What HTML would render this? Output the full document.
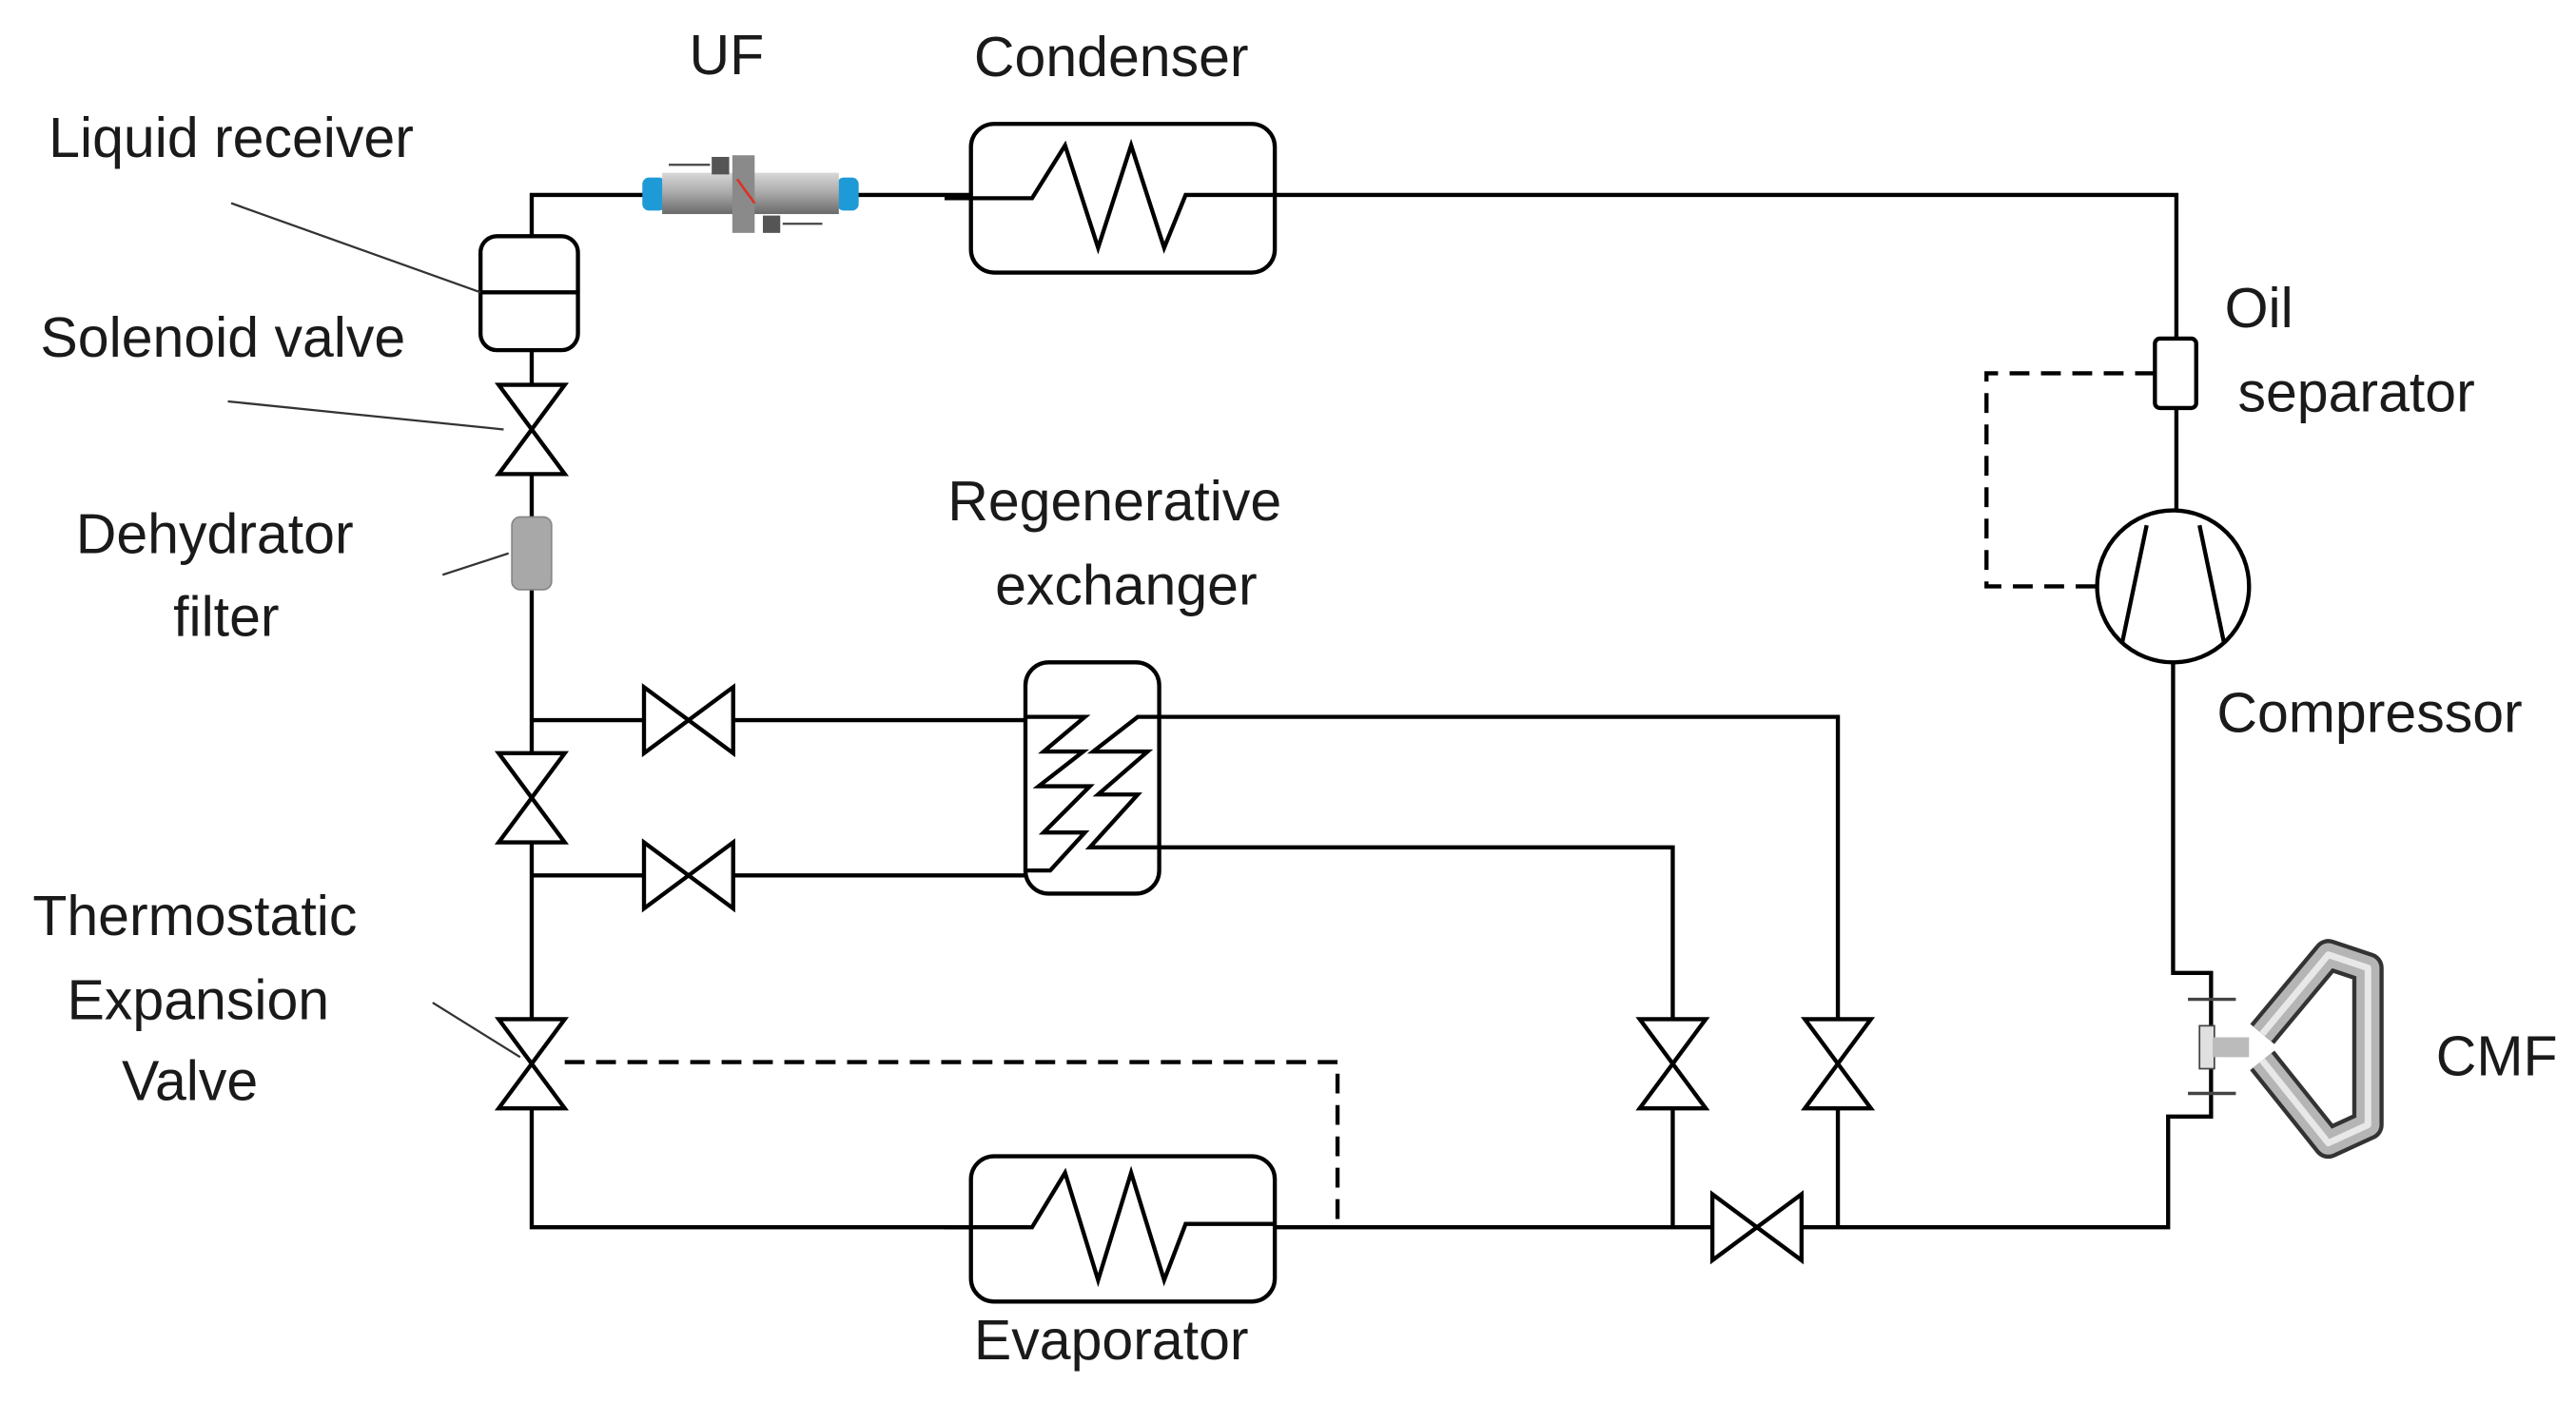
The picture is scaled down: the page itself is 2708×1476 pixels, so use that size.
<!DOCTYPE html>
<html><head><meta charset="utf-8"><style>
html,body{margin:0;padding:0;background:#fff;}
svg{display:block;}
text{font-family:"Liberation Sans",sans-serif;font-size:34px;fill:#1a1a1a;text-anchor:middle;}
</style></head><body>
<svg width="2708" height="1476" viewBox="0 0 1560 850" preserveAspectRatio="none" xmlns="http://www.w3.org/2000/svg">
<defs>
<linearGradient id="g" x1="0" y1="0" x2="0" y2="1"><stop offset="0" stop-color="#d8d8d8"/><stop offset="0.5" stop-color="#a8a8a8"/><stop offset="1" stop-color="#6a6a6a"/></linearGradient>
</defs>
<g fill="none" stroke="#000" stroke-width="2.5">
<path d="M322 143 V118 H1318 V205"/>
<path d="M322 212 V233 M322 287 V313 M322 357 V456 M322 510 V617 M322 671 V743 H1037 M1091 743 H1313 V676 H1339 V589 H1316 V401"/>
<path d="M1318 247 V309"/>
<path d="M322 436 H390 M444 436 H625 M322 530 H390 M444 530 H625"/>
<path d="M702 434 H1113 V617 M1113 671 V743 M702 513 H1013 V617 M1013 671 V743"/>
<rect x="291" y="143" width="59" height="69" rx="10" fill="#fff"/>
<path d="M291 177 H350"/>
<path d="M302 233 H342 L302 287 H342 Z" fill="#fff"/>
<path d="M302 456 H342 L302 510 H342 Z" fill="#fff"/>
<path d="M302 617 H342 L302 671 H342 Z" fill="#fff"/>
<path d="M993 617 H1033 L993 671 H1033 Z" fill="#fff"/>
<path d="M1093 617 H1133 L1093 671 H1133 Z" fill="#fff"/>
<path d="M390 416 V456 L444 416 V456 Z" fill="#fff"/>
<path d="M390 510 V550 L444 510 V550 Z" fill="#fff"/>
<path d="M1037 723 V763 L1091 723 V763 Z" fill="#fff"/>
<rect x="588" y="75" width="184" height="90" rx="14" fill="#fff"/>
<path d="M572 120 H625 L645 88 L665 150 L685 88 L705 150 L718 118 H772"/>
<rect x="588" y="700" width="184" height="88" rx="14" fill="#fff"/>
<path d="M572 743 H625 L645 710 L665 775 L685 710 L705 775 L718 741 H772"/>
<rect x="621" y="401" width="81" height="140" rx="14" fill="#fff"/>
<path d="M621 434 H657 L632 455 H656 L629 476 H660 L632 504 H657 L636 527 H621"/>
<path d="M702 434 H689 L662 455 H695 L665 481 H689 L660 513 H702"/>
<rect x="1305" y="205" width="25" height="42" rx="3" fill="#fff"/>
<circle cx="1316" cy="355" r="46" fill="#fff"/>
<path d="M1285 390 L1300 318 M1347 390 L1332 318"/>
</g>
<g fill="none" stroke="#000" stroke-width="2.5" stroke-dasharray="12,7">
<path d="M342 643 H810 V743"/>
<path d="M1305 226 H1203 V355 H1270"/>
</g>
<g stroke="#333" stroke-width="1.3">
<line x1="140" y1="123" x2="291" y2="177"/>
<line x1="138" y1="243" x2="305" y2="260"/>
<line x1="268" y1="348" x2="308" y2="335"/>
<line x1="262" y1="607" x2="315" y2="640"/>
</g>
<rect x="310" y="313" width="24" height="44" rx="5" fill="#a8a8a8" stroke="#888"/>
<rect x="389" y="107.5" width="14" height="20" rx="4" fill="#1e9bd6"/>
<rect x="507" y="107.5" width="13" height="20" rx="4" fill="#1e9bd6"/>
<rect x="401" y="104.6" width="107" height="25" fill="url(#g)"/>
<rect x="443.5" y="94" width="13.5" height="47" fill="#8a8a8a"/>
<rect x="431" y="95" width="10.6" height="10.6" fill="#555"/>
<rect x="462" y="130.5" width="10.5" height="10.5" fill="#555"/>
<line x1="446.4" y1="108.5" x2="457" y2="123" stroke="#e03020" stroke-width="1.5"/>
<line x1="405" y1="99.8" x2="430" y2="99.8" stroke="#444" stroke-width="1.3"/>
<line x1="474" y1="135.5" x2="498" y2="135.5" stroke="#444" stroke-width="1.3"/>
<g>
<rect x="1332" y="621" width="9" height="26" fill="#e0e0e0" stroke="#444" stroke-width="1"/>
<path d="M1325 605 H1354 M1325 662 H1354" stroke="#444" stroke-width="2"/>
<path d="M1340 634 H1362" stroke="#bbb" stroke-width="12"/>
<path d="M1370 626 L1410 578 L1434 586 V681 L1410 692 L1370 642" fill="none" stroke="#333" stroke-width="19" stroke-linejoin="round"/>
<path d="M1370 626 L1410 578 L1434 586 V681 L1410 692 L1370 642" fill="none" stroke="#b5b5b5" stroke-width="14" stroke-linejoin="round"/>
<path d="M1370 626 L1410 578 L1434 586 V681 L1410 692 L1370 642" fill="none" stroke="#e8e8e8" stroke-width="4" stroke-linejoin="round"/>
</g>
<text x="440" y="45">UF</text>
<text x="673" y="46">Condenser</text>
<text x="140" y="95">Liquid receiver</text>
<text x="135" y="216">Solenoid valve</text>
<text x="130" y="335">Dehydrator</text>
<text x="137" y="385">filter</text>
<text x="675" y="315">Regenerative</text>
<text x="682" y="366">exchanger</text>
<text x="1368" y="198">Oil</text>
<text x="1427" y="249">separator</text>
<text x="1435" y="443">Compressor</text>
<text x="118" y="566">Thermostatic</text>
<text x="120" y="617">Expansion</text>
<text x="115" y="666">Valve</text>
<text x="1512" y="651">CMF</text>
<text x="673" y="823">Evaporator</text>
</svg>
</body></html>
